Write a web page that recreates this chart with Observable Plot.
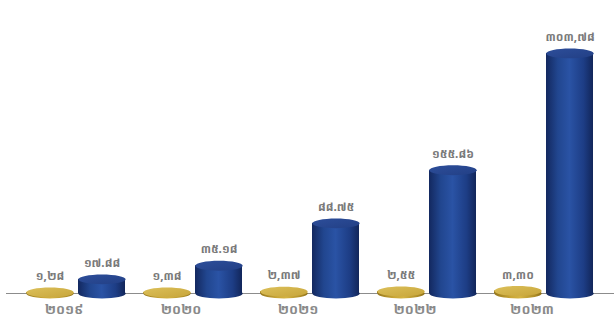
<!DOCTYPE html>
<html><head><meta charset="utf-8">
<script src="https://cdn.jsdelivr.net/npm/d3@7"></script>
<script src="https://cdn.jsdelivr.net/npm/@observablehq/plot@0.6"></script>
<style>
html,body{margin:0;padding:0;background:#fff;}
#chart svg{font-family:"Noto Sans Khmer","Khmer OS","DejaVu Sans",sans-serif;}
</style></head><body>
<svg width="0" height="0" style="position:absolute">
<defs>
<linearGradient id="bBody" x1="0" x2="1" y1="0" y2="0">
 <stop offset="0" stop-color="#13285f"/>
 <stop offset="0.25" stop-color="#21468f"/>
 <stop offset="0.5" stop-color="#2a53a5"/>
 <stop offset="0.8" stop-color="#1d3d85"/>
 <stop offset="1" stop-color="#12265a"/>
</linearGradient>
<linearGradient id="bTop" x1="0" x2="1" y1="0" y2="1">
 <stop offset="0" stop-color="#2d4e9a"/>
 <stop offset="1" stop-color="#223f85"/>
</linearGradient>
<linearGradient id="gBody" x1="0" x2="1" y1="0" y2="0">
 <stop offset="0" stop-color="#96771b"/>
 <stop offset="0.35" stop-color="#c9a636"/>
 <stop offset="0.55" stop-color="#d4b343"/>
 <stop offset="0.85" stop-color="#b08f28"/>
 <stop offset="1" stop-color="#8d6f17"/>
</linearGradient>
<linearGradient id="gTop" x1="0" x2="1" y1="0" y2="1">
 <stop offset="0" stop-color="#dcc05a"/>
 <stop offset="1" stop-color="#c7a53a"/>
</linearGradient>
</defs>
</svg>
<div id="chart"></div>
<script>
const years = ["២០១៩", "២០២០", "២០២១", "២០២២", "២០២៣"];
const goldValues = [1.28, 1.38, 2.37, 2.55, 3.30];
const goldLabels = ["១,២៨", "១,៣៨", "២,៣៧", "២,៥៥", "៣,៣០"];
const blueValues = [17.88, 35.18, 88.75, 155.86, 303.78];
const blueLabels = ["១៧.៨៨", "៣៥.១៨", "៨៨.៧៥", "១៥៥.៨៦", "៣០៣,៧៨"];
const seriesNames = ["gold", "blue"];

const rows = [];
years.forEach((y, i) => {
  rows.push({year: y, series: "gold", value: goldValues[i], label: goldLabels[i]});
  rows.push({year: y, series: "blue", value: blueValues[i], label: blueLabels[i]});
});

const K = 0.5523;
const ellipse = {
  draw(ctx, size) {
    const rx = Math.sqrt(size / Math.PI), ry = rx * 0.21;
    ctx.moveTo(rx, 0);
    ctx.bezierCurveTo(rx, ry * K, rx * K, ry, 0, ry);
    ctx.bezierCurveTo(-rx * K, ry, -rx, ry * K, -rx, 0);
    ctx.bezierCurveTo(-rx, -ry * K, -rx * K, -ry, 0, -ry);
    ctx.bezierCurveTo(rx * K, -ry, rx, -ry * K, rx, 0);
    ctx.closePath();
  }
};
const R = 23.65;
const isGold = d => d.series === "gold";
const isBlue = d => d.series === "blue";

const chart = Plot.plot({
  width: 614,
  height: 325,
  marginLeft: 25,
  marginRight: 19,
  marginTop: 29,
  marginBottom: 32,
  facet: {data: rows, x: "year"},
  fx: {domain: years, paddingInner: 0.15, paddingOuter: 0, axis: null, label: null},
  x: {domain: seriesNames, paddingInner: 0.1, paddingOuter: 0, axis: null, label: null},
  y: {domain: [0, 334], axis: null, label: null},
  marks: [
    Plot.ruleY([0], {stroke: "#8c8c8c", strokeWidth: 1.2, insetLeft: -20, insetRight: -22}),
    Plot.dot(rows, {filter: isGold, x: "series", y: d => 0, r: R, symbol: ellipse, fill: "url(#gBody)"}),
    Plot.dot(rows, {filter: isBlue, x: "series", y: d => 0, r: R, symbol: ellipse, fill: "url(#bBody)"}),
    Plot.barY(rows, {filter: isGold, x: "series", y1: d => 0, y2: "value", fill: "url(#gBody)"}),
    Plot.barY(rows, {filter: isBlue, x: "series", y1: d => 0, y2: "value", fill: "url(#bBody)"}),
    Plot.dot(rows, {filter: isGold, x: "series", y: "value", r: R, symbol: ellipse, fill: "url(#gTop)"}),
    Plot.dot(rows, {filter: isBlue, x: "series", y: "value", r: R, symbol: ellipse, fill: "url(#bTop)"}),
    Plot.text(rows, {x: "series", y: "value", text: "label", dy: -16, fill: "#7a7a7a", fontSize: 11.5, fontWeight: "bold"}),
    Plot.text(rows, {filter: isGold, text: "year", frameAnchor: "bottom", dy: 20, dx: -12, fill: "#8a8a8a", fontSize: 13.5, fontWeight: "bold"})
  ]
});
document.getElementById("chart").appendChild(chart);
</script>
</body></html>
